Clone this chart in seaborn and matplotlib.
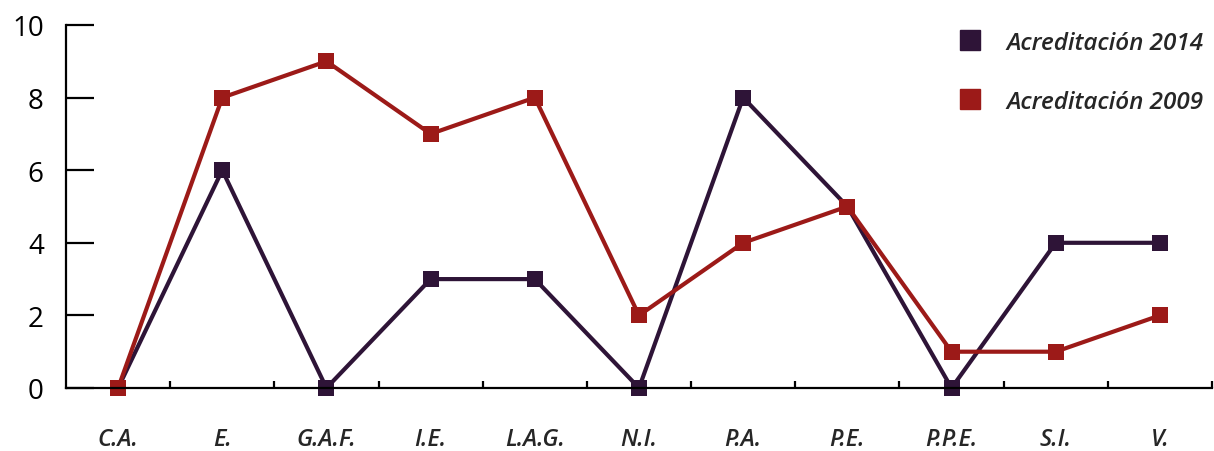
import numpy as np
import pandas as pd
import matplotlib.pyplot as plt
import seaborn as sns

# categories and values
areas = ['C.A.', 'E.', 'G.A.F.', 'I.E.', 'L.A.G.', 'N.I.', 'P.A.', 'P.E.', 'P.P.E.', 'S.I.', 'V.']
acred_2014 = [0, 6, 0, 3, 3, 0, 8, 5, 0, 4, 4]
acred_2009 = [0, 8, 9, 7, 8, 2, 4, 5, 1, 1, 2]
series = ['Acreditación 2014', 'Acreditación 2009']
colors = ['#2e1437', '#9c1a18']

df = pd.DataFrame({
    'pos': list(range(len(areas))) * 2,
    'valor': acred_2014 + acred_2009,
    'serie': [series[0]] * len(areas) + [series[1]] * len(areas),
})

sns.set_style('white')
plt.rcParams['font.family'] = ['Open Sans', 'DejaVu Sans']

fig = plt.figure(figsize=(12.14, 4.52), dpi=100)
ax = fig.add_axes([66 / 1214, 63 / 452, 1146 / 1214, 363 / 452])

sns.lineplot(data=df, x='pos', y='valor', hue='serie', hue_order=series,
             palette=colors, marker='s', markersize=11.5, markeredgewidth=0,
             linewidth=3, ax=ax, legend=False)
for line in ax.get_lines():
    line.set_clip_on(False)

ax.set_xlim(-0.5, len(areas) - 0.5)
ax.set_ylim(0, 10)
ax.set_xlabel('')
ax.set_ylabel('')
ax.set_yticks(np.arange(0, 11, 2))
ax.tick_params(axis='y', direction='in', length=20, width=1.6, pad=16,
               labelsize=20, left=True, colors='black')
ax.set_xticks(range(len(areas)))
ax.set_xticklabels(areas, fontsize=17, style='italic', fontweight='semibold')
ax.set_xticks(np.arange(0.5, len(areas), 1), minor=True)
ax.tick_params(axis='x', which='major', length=0, pad=28)
ax.tick_params(axis='x', which='minor', direction='in', length=5, width=1.6,
               bottom=True, color='black')

for side in ['top', 'right']:
    ax.spines[side].set_visible(False)
for side in ['left', 'bottom']:
    ax.spines[side].set_color('black')
    ax.spines[side].set_linewidth(1.6)

handles = [plt.Line2D([], [], marker='s', linestyle='', color=c, markersize=15)
           for c in colors]
ax.legend(handles, series, loc='upper right', bbox_to_anchor=(1.012, 1.045),
          frameon=False, handletextpad=0.9, labelspacing=1.45, handlelength=1.2,
          prop={'size': 17.5, 'style': 'italic', 'weight': 'semibold'})

fig.savefig('out.png', dpi=100)
